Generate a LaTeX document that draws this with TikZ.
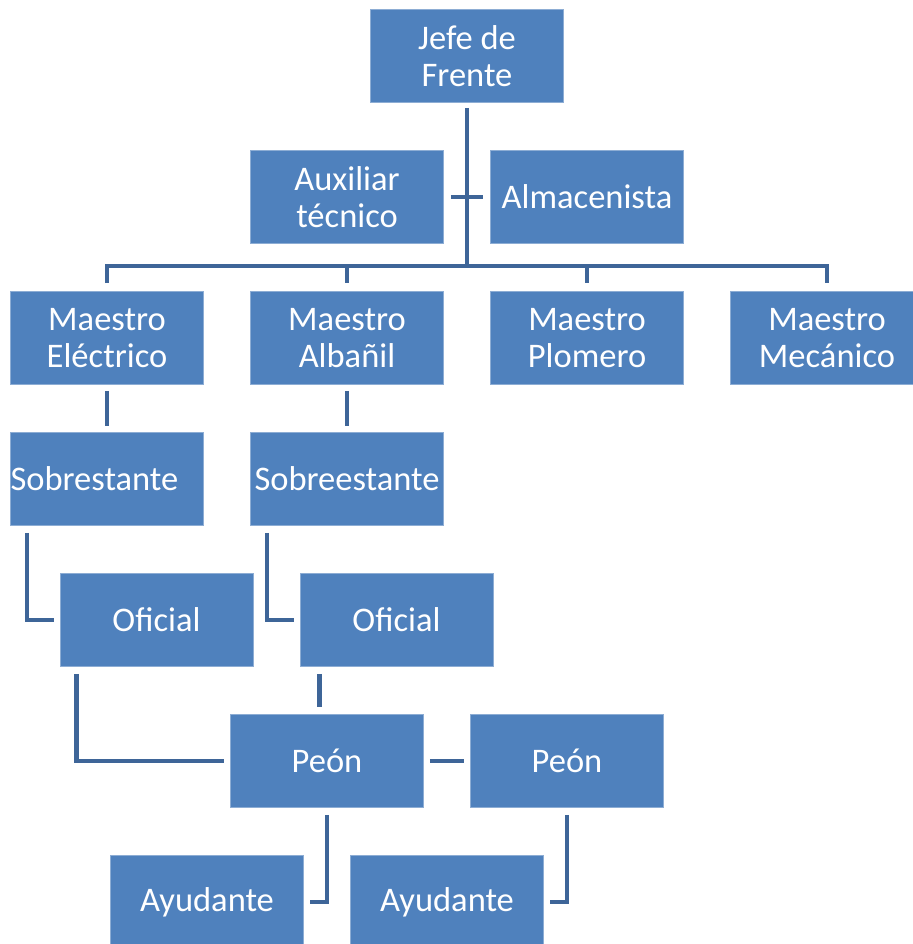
\documentclass[tikz,border=0pt]{standalone}
\usepackage{fontspec}
\setmainfont{Carlito}
\usetikzlibrary{calc}
\definecolor{boxblue}{RGB}{79,129,189}
\definecolor{linkblue}{RGB}{62,101,152}
\begin{document}
\begin{tikzpicture}[x=1pt,y=-1pt,
  box/.style={rectangle, fill=boxblue, draw=boxblue!65!white, line width=0.8pt,
    minimum width=193pt, minimum height=93pt, inner sep=2pt, text=white,
    align=center, font=\fontsize{34.5}{37.5}\selectfont},
  link/.style={draw=linkblue, line width=4.5pt}]
\useasboundingbox (0,0) rectangle (912,944);

% nodes
\node[box] (jefe) at (467,56) {Jefe de\\Frente};
\node[box] (aux) at (347,197) {Auxiliar\\técnico};
\node[box] (alm) at (587,197) {Almacenista};
\node[box] (m1) at (107,338) {Maestro\\Eléctrico};
\node[box] (m2) at (347,338) {Maestro\\Albañil};
\node[box] (m3) at (587,338) {Maestro\\Plomero};
\node[box] (m4) at (827,338) {Maestro\\Mecánico};
\node[box, align=left, text width=193pt, inner xsep=0pt] (s1) at (107,479) {Sobrestante};
\node[box] (s2) at (347,479) {Sobreestante};
\node[box] (o1) at (156.5,620) {Oficial};
\node[box] (o2) at (396.5,620) {Oficial};
\node[box] (p1) at (327,761) {Peón};
\node[box] (p2) at (567,761) {Peón};
\node[box] (a1) at (207,902) {Ayudante};
\node[box] (a2) at (447,902) {Ayudante};

\coordinate (bus) at (467,266);
\coordinate (o2x) at ($(o2.south west)+(20,0)$);

% connectors
\draw[link] ($(jefe.south)+(0,5)$) -- (jefe.south |- bus);
\draw[link] ($(m1.north)+(0,-8)$) -- (m1.north |- bus) -- (m4.north |- bus) -- ($(m4.north)+(0,-8)$);
\draw[link] (m2.north |- bus) -- ($(m2.north)+(0,-8)$);
\draw[link] (m3.north |- bus) -- ($(m3.north)+(0,-8)$);
\draw[link] ($(aux.east)+(7,0)$) -- ($(alm.west)+(-7,0)$);
\draw[link] ($(m1.south)+(0,6)$) -- ($(s1.north)+(0,-6)$);
\draw[link] ($(m2.south)+(0,6)$) -- ($(s2.north)+(0,-6)$);
\draw[link] ($(s1.south west)+(17,7)$) |- ($(o1.west)+(-6,0)$);
\draw[link] ($(s2.south west)+(17,7)$) |- ($(o2.west)+(-6,0)$);
\draw[link] ($(o1.south west)+(17,7)$) |- ($(p1.west)+(-6,0)$);
\draw[link] ($(o2x)+(0,7)$) -- ($(o2x |- p1.north)+(0,-7)$);
\draw[link] ($(p1.east)+(6,0)$) -- ($(p2.west)+(-6,0)$);
\draw[link] ($(p1.south)+(0,7)$) |- ($(a1.east)+(6,0)$);
\draw[link] ($(p2.south)+(0,7)$) |- ($(a2.east)+(6,0)$);
\end{tikzpicture}
\end{document}
